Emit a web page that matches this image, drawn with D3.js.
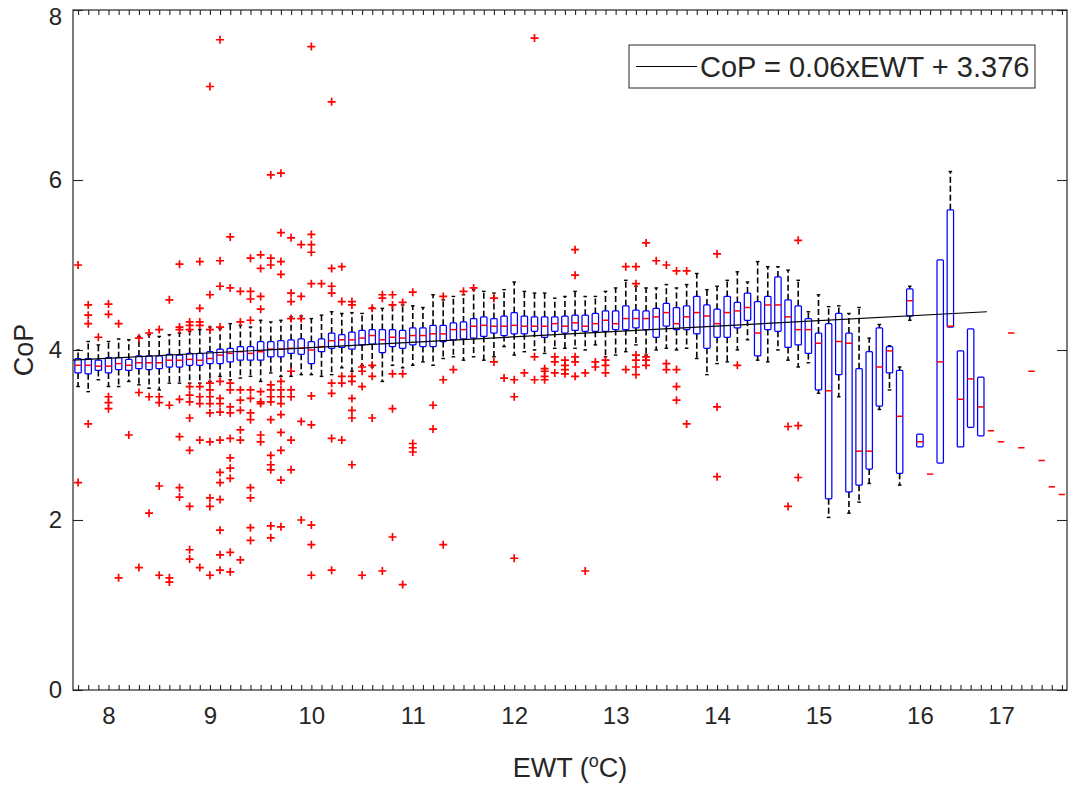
<!DOCTYPE html>
<html><head><meta charset="utf-8">
<script src="https://cdn.jsdelivr.net/npm/d3@7"></script>
<style>
body{margin:0;background:#fff;}
svg{display:block;}
text{font-family:"Liberation Sans",Arial,Helvetica,sans-serif;fill:#262626;}
</style>
</head><body>
<svg id="chart" width="1069" height="787"></svg>
<script>
// ---------------- data ----------------
// one box per EWT group, in axis order (group index 1..98)
const q1 = [3.73,3.72,3.76,3.73,3.77,3.76,3.78,3.77,3.78,3.80,3.80,3.82,3.82,3.84,3.84,3.86,3.88,3.88,3.88,3.92,
3.92,3.96,3.95,3.84,3.98,4.02,4.03,4.01,4.06,4.07,3.97,4.04,4.02,4.06,4.04,4.04,4.10,4.12,4.13,4.14,
4.16,4.20,4.17,4.19,4.19,4.22,4.15,4.22,4.20,4.23,4.22,4.22,4.22,4.24,4.24,4.26,4.24,4.15,4.28,4.24,
4.24,4.19,4.02,4.15,4.15,4.26,4.35,3.93,4.24,4.22,4.03,4.06,3.96,3.53,2.25,3.71,2.33,2.41,2.60,3.34,
3.73,2.55,4.40,2.86,2.54,2.67,4.27,2.86,3.09,2.99,3.05,2.92,4.20,2.85,3.75,2.70,2.39,2.30];
const medians = [3.82,3.82,3.81,3.81,3.84,3.82,3.85,3.85,3.85,3.88,3.88,3.89,3.88,3.90,3.94,3.96,3.98,3.96,3.98,4.01,
4.01,4.02,4.02,4.00,4.04,4.11,4.12,4.12,4.14,4.17,4.12,4.15,4.14,4.17,4.17,4.19,4.19,4.24,4.24,4.28,
4.29,4.28,4.28,4.29,4.28,4.28,4.28,4.31,4.28,4.32,4.28,4.31,4.35,4.31,4.37,4.37,4.37,4.39,4.44,4.31,
4.39,4.44,4.40,4.31,4.44,4.46,4.50,4.20,4.53,4.53,4.39,4.24,4.24,4.08,3.52,4.10,4.08,2.81,2.81,3.80,
3.99,3.22,4.58,2.92,2.54,3.86,4.28,3.42,3.66,3.33,3.05,2.92,4.20,2.85,3.75,2.70,2.39,2.30];
const q3 = [3.90,3.90,3.88,3.91,3.91,3.89,3.93,3.93,3.93,3.95,3.94,3.96,3.96,3.98,4.01,4.02,4.04,4.04,4.10,4.10,
4.11,4.12,4.13,4.10,4.13,4.20,4.18,4.21,4.23,4.24,4.24,4.24,4.23,4.26,4.26,4.29,4.29,4.32,4.33,4.37,
4.39,4.37,4.40,4.44,4.40,4.39,4.39,4.39,4.40,4.41,4.41,4.43,4.46,4.46,4.52,4.47,4.46,4.49,4.55,4.50,
4.52,4.63,4.53,4.48,4.63,4.56,4.67,4.57,4.63,4.86,4.59,4.52,4.37,4.20,4.31,4.43,4.20,3.78,3.98,4.26,
4.04,3.76,4.72,3.01,2.54,5.06,5.65,3.99,4.25,3.68,3.05,2.92,4.20,2.85,3.75,2.70,2.39,2.30];
const whiskerLow = [3.57,3.51,3.65,3.57,3.57,3.63,3.59,3.55,3.53,3.61,3.61,3.61,3.61,3.63,3.69,3.65,3.67,3.69,3.63,3.73,
3.69,3.69,3.71,3.71,3.69,3.71,3.79,3.75,3.82,3.80,3.63,3.82,3.79,3.82,3.86,3.82,3.90,3.92,3.88,3.92,
3.88,3.92,4.04,3.94,3.98,4.00,3.96,4.02,4.02,4.02,4.00,4.06,3.92,3.94,3.98,4.06,3.94,4.00,4.02,4.00,
4.02,3.90,3.71,3.84,3.86,4.00,4.12,3.88,3.86,4.00,3.88,3.80,3.85,3.49,2.03,3.45,2.08,2.21,2.43,3.30,
3.53,2.41,4.35,2.86,2.54,2.67,4.27,2.86,3.09,2.99,3.05,2.92,4.20,2.85,3.75,2.70,2.39,2.30];
const whiskerHigh = [4.00,4.10,4.06,4.10,4.13,4.12,4.16,4.18,4.16,4.18,4.20,4.22,4.24,4.27,4.25,4.31,4.29,4.27,4.35,4.33,
4.35,4.39,4.40,4.37,4.41,4.45,4.43,4.44,4.43,4.50,4.49,4.53,4.53,4.52,4.50,4.65,4.59,4.63,4.65,4.71,
4.69,4.67,4.71,4.80,4.69,4.67,4.67,4.61,4.63,4.69,4.63,4.63,4.69,4.73,4.82,4.75,4.73,4.73,4.77,4.73,
4.77,4.90,4.71,4.75,4.82,4.92,4.80,5.04,4.98,4.98,4.94,4.82,4.45,4.65,4.51,4.52,4.43,4.50,4.14,4.30,
4.05,3.80,4.75,3.01,2.54,5.06,6.10,3.99,4.25,3.68,3.05,2.92,4.20,2.85,3.75,2.70,2.39,2.30];
// outliers: [group index, CoP]
const outliers = [
[1,5.0],[1,2.44],[2,4.53],[2,4.41],[2,4.31],[2,3.13],[3,4.15],[4,4.54],[4,4.42],[4,3.45],[4,3.38],[4,3.31],
[5,4.31],[5,1.32],[6,3.0],[7,4.14],[7,3.5],[7,1.44],[8,4.20],[8,3.45],[8,2.08],[9,4.24],[9,3.45],[9,3.38],[9,2.40],[9,1.35],
[10,4.59],[10,3.35],[10,1.32],[10,1.27],[11,4.24],[11,4.27],[11,3.42],[11,2.98],[11,5.01],[11,2.38],[11,2.27],
[12,4.33],[12,4.29],[12,4.24],[12,3.57],[12,3.47],[12,3.39],[12,3.20],[12,2.82],[12,2.16],[12,1.54],[12,1.65],
[13,5.04],[13,4.49],[13,4.33],[13,4.29],[13,3.57],[13,3.45],[13,3.37],[13,2.94],[13,1.44],
[14,4.65],[14,4.24],[14,3.61],[14,3.53],[14,3.45],[14,3.37],[14,3.26],[14,2.92],[14,7.10],[14,2.26],[14,2.16],[14,1.35],
[15,4.75],[15,4.27],[15,3.63],[15,3.43],[15,3.37],[15,3.27],[15,2.94],[15,7.65],[15,5.05],[15,2.56],[15,2.44],[15,2.24],[15,1.88],[15,1.59],[15,1.41],
[16,4.73],[16,3.61],[16,3.53],[16,3.33],[16,3.26],[16,2.96],[16,5.33],[16,2.73],[16,2.61],[16,2.49],[16,1.62],[16,1.39],
[17,4.69],[17,4.33],[17,3.53],[17,3.41],[17,3.29],[17,3.06],[17,2.94],[17,1.53],
[18,4.69],[18,4.60],[18,4.35],[18,3.53],[18,3.43],[18,3.26],[18,3.18],[18,5.08],[18,2.38],[18,2.26],[18,1.91],[18,1.76],
[19,4.96],[19,4.63],[19,4.48],[19,3.51],[19,3.39],[19,3.37],[19,3.0],[19,5.12],[19,2.92],
[20,5.08],[20,5.0],[20,3.59],[20,3.53],[20,3.45],[20,3.39],[20,3.18],[20,6.06],[20,2.76],[20,2.65],[20,2.59],[20,1.93],[20,1.79],
[21,5.04],[21,4.89],[21,3.63],[21,3.53],[21,3.45],[21,3.37],[21,3.24],[21,3.03],[21,6.08],[21,5.38],[21,2.82],[21,2.47],[21,1.92],
[22,4.67],[22,4.57],[22,4.37],[22,3.75],[22,3.53],[22,3.45],[22,5.32],[22,2.94],[22,2.59],
[23,4.63],[23,4.37],[23,3.16],[23,5.24],[23,2.0],
[24,4.78],[24,3.46],[24,3.12],[24,5.24],[24,5.36],[24,5.15],[24,1.71],[24,1.94],[24,7.57],[24,1.35],
[25,4.78],
[26,4.75],[26,4.67],[26,3.61],[26,3.49],[26,2.96],[26,4.96],[26,6.92],[26,1.41],
[27,4.98],[27,4.57],[27,3.69],[27,3.61],[27,2.94],
[28,4.57],[28,4.53],[28,3.69],[28,3.63],[28,3.43],[28,3.29],[28,3.20],[28,2.65],
[29,3.80],[29,3.75],[29,3.57],[29,1.35],
[30,4.49],[30,3.82],[30,3.69],[30,3.20],
[31,4.65],[31,4.61],[31,1.40],[32,4.65],[32,4.53],[32,3.72],[32,3.31],[32,1.80],
[33,4.56],[33,3.72],[33,1.24],[34,4.68],[34,2.9],[34,2.85],[34,2.80],
[36,3.35],[36,3.07],[37,4.63],[37,3.65],[37,1.71],[38,3.77],[39,4.69],[40,4.73],
[42,4.61],[42,3.86],[43,3.67],[44,3.65],[44,3.45],[44,1.55],[45,3.73],[46,3.92],[46,3.65],[46,7.67],
[47,3.78],[47,3.75],[47,3.69],[47,3.65],[48,3.92],[48,3.86],[48,3.73],
[49,3.88],[49,3.82],[49,3.77],[49,3.72],[50,5.18],[50,4.88],[50,3.92],[50,3.86],[50,3.69],
[51,3.73],[51,1.40],[52,3.86],[52,3.80],[53,3.88],[53,3.82],[53,3.73],
[55,4.98],[55,3.77],[56,4.98],[56,4.78],[56,3.94],[56,3.88],[56,3.80],[56,3.71],
[57,5.26],[57,3.92],[57,3.88],[57,3.82],[58,5.05],[59,5.0],[59,3.84],[59,3.77],
[60,4.93],[60,3.77],[60,3.57],[60,3.41],[61,4.93],[61,3.13],[64,5.13],[64,3.33],[64,2.51],
[66,3.82],[71,3.10],[71,2.16],[72,5.29],[72,3.11],[72,2.5]
];
// regression line drawn over the groups: [group position, CoP]
const fitX = [0.5, 90.6];
const fitY = [3.88, 4.45];
const fitLabel = "CoP = 0.06xEWT + 3.376";
// x tick labels and the group index where each sits
const tickLabels = ["8","9","10","11","12","13","14","15","16","17"];
const tickGroups = [4,14,24,34,44,54,64,74,84,92];
const yTicks = [0,2,4,6,8];

// ---------------- drawing ----------------
const svg = d3.select("#chart");
const M = {l:73, r:1067, t:10, b:690};
const n = medians.length;
const x = d3.scaleLinear().domain([0.5, n + 0.5]).range([M.l, M.r]);
const y = d3.scaleLinear().domain([0, 8]).range([M.b, M.t]);
const groups = d3.range(1, n + 1);
const labelMap = new Map(tickGroups.map((g, i) => [g, tickLabels[i]]));
const axisColor = "#262626";

svg.append("rect").attr("width",1069).attr("height",787).attr("fill","#fff");

// axes
const gB = svg.append("g").attr("transform",`translate(0,${M.b})`)
  .call(d3.axisBottom(x).tickValues(groups).tickSizeInner(-5).tickSizeOuter(0).tickPadding(17)
  .tickFormat(d => labelMap.get(d) || ""));
const gT = svg.append("g").attr("transform",`translate(0,${M.t})`)
  .call(d3.axisTop(x).tickValues(groups).tickSizeInner(-5).tickSizeOuter(0).tickFormat(""));
const gL = svg.append("g").attr("transform",`translate(${M.l},0)`)
  .call(d3.axisLeft(y).tickValues(yTicks).tickSizeInner(-10).tickSizeOuter(0).tickPadding(11).tickFormat(d3.format("d")));
const gR = svg.append("g").attr("transform",`translate(${M.r},0)`)
  .call(d3.axisRight(y).tickValues(yTicks).tickSizeInner(-10).tickSizeOuter(0).tickFormat(""));
[gB,gT,gL,gR].forEach(g => {
  g.select(".domain").remove();
  g.selectAll(".tick line").attr("stroke",axisColor).attr("stroke-width",1.1);
  g.selectAll(".tick text").attr("fill",axisColor).style("font-size","24px").style("font-family","Liberation Sans, Arial, sans-serif");
});
// keep the top y label fully inside the picture
gL.selectAll(".tick text").filter(d => d === 8).attr("dy","0.62em");

const plot = svg.append("g");
const bw = 3.2;   // half box width
const cw = 1.8;   // half cap width

const data = groups.map((g, i) => ({g, q1:q1[i], med:medians[i], q3:q3[i], lo:whiskerLow[i], hi:whiskerHigh[i]}));

// whiskers (dashed black)
plot.selectAll(".wup").data(data.filter(d => d.hi > d.q3)).join("line")
  .attr("x1", d => x(d.g)).attr("x2", d => x(d.g))
  .attr("y1", d => y(d.q3)).attr("y2", d => y(d.hi))
  .attr("stroke","#000").attr("stroke-width",1.6).attr("stroke-dasharray","6,3");
plot.selectAll(".wlo").data(data.filter(d => d.lo < d.q1)).join("line")
  .attr("x1", d => x(d.g)).attr("x2", d => x(d.g))
  .attr("y1", d => y(d.q1)).attr("y2", d => y(d.lo))
  .attr("stroke","#000").attr("stroke-width",1.6).attr("stroke-dasharray","6,3");
// caps
plot.selectAll(".caphi").data(data.filter(d => d.hi > d.q3)).join("line")
  .attr("x1", d => x(d.g)-cw).attr("x2", d => x(d.g)+cw)
  .attr("y1", d => y(d.hi)).attr("y2", d => y(d.hi))
  .attr("stroke","#000").attr("stroke-width",1.4);
plot.selectAll(".caplo").data(data.filter(d => d.lo < d.q1)).join("line")
  .attr("x1", d => x(d.g)-cw).attr("x2", d => x(d.g)+cw)
  .attr("y1", d => y(d.lo)).attr("y2", d => y(d.lo))
  .attr("stroke","#000").attr("stroke-width",1.4);

// boxes
plot.selectAll(".box").data(data).join("rect")
  .attr("x", d => x(d.g)-bw).attr("width", bw*2)
  .attr("y", d => y(d.q3)).attr("height", d => Math.max(0, y(d.q1)-y(d.q3)))
  .attr("fill","none").attr("stroke","#0000ff").attr("stroke-width",1.25).attr("rx",1);

// medians
plot.selectAll(".med").data(data).join("line")
  .attr("x1", d => x(d.g)-bw).attr("x2", d => x(d.g)+bw)
  .attr("y1", d => y(d.med)).attr("y2", d => y(d.med))
  .attr("stroke","#ff0000").attr("stroke-width",1.5);

// outliers
plot.selectAll(".out").data(outliers).join("path")
  .attr("transform", d => `translate(${x(d[0])},${y(d[1])})`)
  .attr("d","M-4,0H4M0,-4V4")
  .attr("stroke","#ff0000").attr("stroke-width",1.7).attr("fill","none");

// regression line
const fitPts = fitX.map((v,i) => [x(v), y(fitY[i])]);
plot.append("path").attr("d", d3.line()(fitPts)).attr("stroke","#000").attr("stroke-width",1.2).attr("fill","none");

// frame
svg.append("rect").attr("x",M.l).attr("y",M.t).attr("width",M.r-M.l).attr("height",M.b-M.t)
  .attr("fill","none").attr("stroke",axisColor).attr("stroke-width",1.2);

// legend
const lg = svg.append("g");
lg.append("rect").attr("x",629).attr("y",45).attr("width",406).attr("height",43)
  .attr("fill","#fff").attr("stroke",axisColor).attr("stroke-width",1);
lg.append("line").attr("x1",636).attr("x2",697).attr("y1",66.5).attr("y2",66.5).attr("stroke","#000").attr("stroke-width",1.2);
lg.append("text").attr("x",700).attr("y",77).style("font-size","29px").attr("fill","#000").text(fitLabel);

// axis labels
svg.append("text").attr("x",(M.l+M.r)/2).attr("y",777).attr("text-anchor","middle").style("font-size","27px")
  .html('EWT (<tspan dy="-10" font-size="18px">o</tspan><tspan dy="10">C)</tspan>');
svg.append("text").attr("transform",`translate(33,${y(4)}) rotate(-90)`).attr("text-anchor","middle").style("font-size","27px").text("CoP");
</script>
</body></html>
